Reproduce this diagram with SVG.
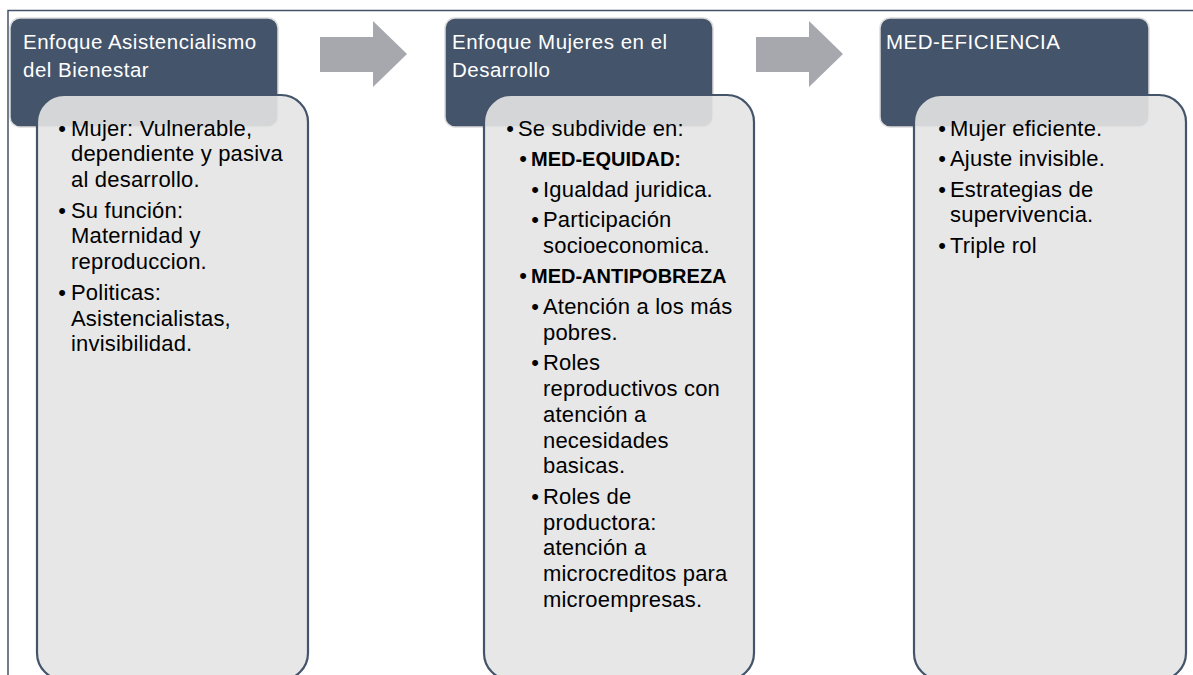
<svg xmlns="http://www.w3.org/2000/svg" width="1193" height="675" viewBox="0 0 1193 675">
<style>
.frame{fill:none;stroke:#44546a;stroke-width:1.5}
.hdr{fill:#44546a;stroke:#dcdcdc;stroke-width:1.5}
.body{fill:#e4e4e4;fill-opacity:0.9;stroke:#44546a;stroke-width:2.2}
.arrow{fill:#a6a8ad}
.ht{font-family:"Liberation Sans",Arial,sans-serif;font-size:20.5px;letter-spacing:0.5px;fill:#ffffff}
.bt{font-family:"Liberation Sans",Arial,sans-serif;font-size:22px;letter-spacing:0.2px;fill:#000000}
.b{font-weight:bold;font-size:20px;letter-spacing:0}
.bul{text-anchor:middle;letter-spacing:0}
</style>
<rect width="1193" height="675" fill="#ffffff"/>
<path class="frame" d="M8 680 V10.5 H1194"/>
<g id="connectors">
<path class="arrow" d="M320 37 H373 V21 L407 54 L373 87 V72 H320 Z"/>
<path class="arrow" d="M756 37 H809 V21 L843 54 L809 87 V72 H756 Z"/>
</g>
<g id="node1">
<rect class="hdr" x="10" y="18" width="268" height="109" rx="10"/>
<text class="ht" x="23" y="49">Enfoque Asistencialismo</text>
<text class="ht" x="23" y="77">del Bienestar</text>
<rect class="body" x="37" y="95" width="271" height="585" rx="27"/>
<g class="bt">
<text class="bul" x="62" y="135.5">•</text><text x="71" y="135.5">Mujer: Vulnerable,</text>
<text x="71" y="161.3">dependiente y pasiva</text>
<text x="71" y="187.1">al desarrollo.</text>
<text class="bul" x="62" y="217.6">•</text><text x="71" y="217.6">Su función:</text>
<text x="71" y="243.4">Maternidad y</text>
<text x="71" y="269.2">reproduccion.</text>
<text class="bul" x="62" y="299.7">•</text><text x="71" y="299.7">Politicas:</text>
<text x="71" y="325.5">Asistencialistas,</text>
<text x="71" y="351.3">invisibilidad.</text>
</g>
</g>
<g id="node2">
<rect class="hdr" x="445" y="18" width="268" height="109" rx="10"/>
<text class="ht" x="452" y="49">Enfoque Mujeres en el</text>
<text class="ht" x="452" y="77">Desarrollo</text>
<rect class="body" x="484" y="95" width="270" height="585" rx="27"/>
<g class="bt">
<text class="bul" x="510" y="135.5">•</text><text x="518" y="135.5">Se subdivide en:</text>
<text class="bul" x="523" y="166">•</text><text class="b" x="531" y="166">MED-EQUIDAD:</text>
<text class="bul" x="535" y="196.5">•</text><text x="543" y="196.5">Igualdad juridica.</text>
<text class="bul" x="535" y="227">•</text><text x="543" y="227">Participación</text>
<text x="543" y="252.8">socioeconomica.</text>
<text class="bul" x="523" y="283.3">•</text><text class="b" x="531" y="283.3">MED-ANTIPOBREZA</text>
<text class="bul" x="535" y="313.8">•</text><text x="543" y="313.8">Atención a los más</text>
<text x="543" y="339.6">pobres.</text>
<text class="bul" x="535" y="370.1">•</text><text x="543" y="370.1">Roles</text>
<text x="543" y="395.9">reproductivos con</text>
<text x="543" y="421.7">atención a</text>
<text x="543" y="447.5">necesidades</text>
<text x="543" y="473.3">basicas.</text>
<text class="bul" x="535" y="503.8">•</text><text x="543" y="503.8">Roles de</text>
<text x="543" y="529.6">productora:</text>
<text x="543" y="555.4">atención a</text>
<text x="543" y="581.2">microcreditos para</text>
<text x="543" y="607">microempresas.</text>
</g>
</g>
<g id="node3">
<rect class="hdr" x="880" y="18" width="269" height="109" rx="10"/>
<text class="ht" x="886" y="49">MED-EFICIENCIA</text>
<rect class="body" x="914" y="95" width="272" height="585" rx="27"/>
<g class="bt">
<text class="bul" x="942" y="135.5">•</text><text x="950" y="135.5">Mujer eficiente.</text>
<text class="bul" x="942" y="166">•</text><text x="950" y="166">Ajuste invisible.</text>
<text class="bul" x="942" y="196.5">•</text><text x="950" y="196.5">Estrategias de</text>
<text x="950" y="222.3">supervivencia.</text>
<text class="bul" x="942" y="252.8">•</text><text x="950" y="252.8">Triple rol</text>
</g>
</g>
</svg>
